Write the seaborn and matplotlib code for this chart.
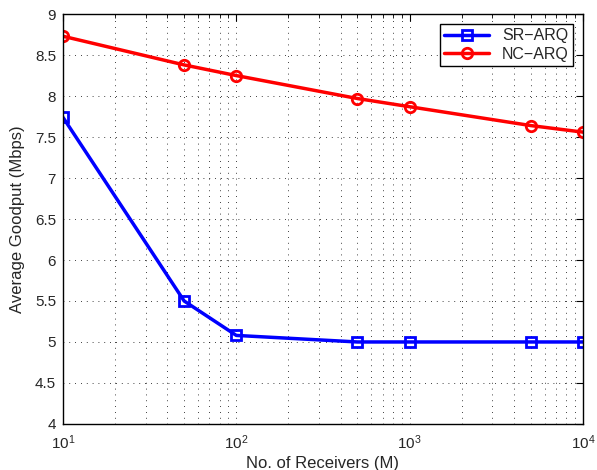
import numpy as np
import pandas as pd
import matplotlib
matplotlib.use("Agg")
import matplotlib.pyplot as plt
import seaborn as sns
from matplotlib.ticker import LogLocator, NullFormatter

sns.set_style("white")
plt.rcParams['font.family'] = ['Liberation Sans', 'DejaVu Sans']

receivers = [10, 50, 100, 500, 1000, 5000, 10000]
sr_arq = [7.74, 5.50, 5.08, 5.00, 5.00, 5.00, 5.00]
nc_arq = [8.73, 8.38, 8.25, 7.97, 7.87, 7.64, 7.56]

df = pd.DataFrame({
    "M": receivers * 2,
    "goodput": sr_arq + nc_arq,
    "scheme": ["SR\u2212ARQ"] * len(receivers) + ["NC\u2212ARQ"] * len(receivers),
})

fig = plt.figure(figsize=(5.97, 4.70), dpi=100)
ax = fig.add_axes([0.1055, 0.098, 0.871, 0.872])

styles = {"SR\u2212ARQ": ("#0000ff", "s"), "NC\u2212ARQ": ("#ff0000", "o")}
for name, (col, mk) in styles.items():
    sub = df[df.scheme == name]
    sns.lineplot(data=sub, x="M", y="goodput", ax=ax, color=col, lw=2.5,
                 marker=mk, markersize=7.5, markerfacecolor="none",
                 markeredgecolor=col, markeredgewidth=2, label=name)

ax.set_xscale("log")
ax.set_xlim(10, 10000)
ax.set_ylim(4, 9)
ax.set_yticks(np.arange(4, 9.01, 0.5))
ax.set_yticklabels(["4", "4.5", "5", "5.5", "6", "6.5", "7", "7.5", "8", "8.5", "9"])
ax.xaxis.set_minor_locator(LogLocator(base=10, subs=np.arange(2, 10)))
ax.xaxis.set_minor_formatter(NullFormatter())

ax.grid(True, which="major", color="black", linestyle=(0, (1, 6)), lw=0.6)
ax.grid(True, which="minor", axis="x", color="black", linestyle=(0, (1, 6)), lw=0.6)
ax.tick_params(which="both", direction="in", top=True, right=True, labelsize=11,
               color="black")
ax.tick_params(which="major", length=5)
ax.tick_params(which="minor", length=3)
ax.tick_params(axis="x", which="major", pad=7)
ax.tick_params(axis="y", which="major", pad=5)
for s in ax.spines.values():
    s.set_color("black")
    s.set_linewidth(1)

ax.set_xlabel("No. of Receivers (M)", fontsize=12, labelpad=3)
ax.set_ylabel("Average Goodput (Mbps)", fontsize=12, labelpad=7)

leg = ax.legend(loc="upper right", fontsize=11.5, fancybox=False, framealpha=1,
                edgecolor="black", borderaxespad=0.6, handlelength=2.8,
                borderpad=0.3, labelspacing=0.2)
leg.get_frame().set_linewidth(1)

fig.savefig("out.png", dpi=100)
